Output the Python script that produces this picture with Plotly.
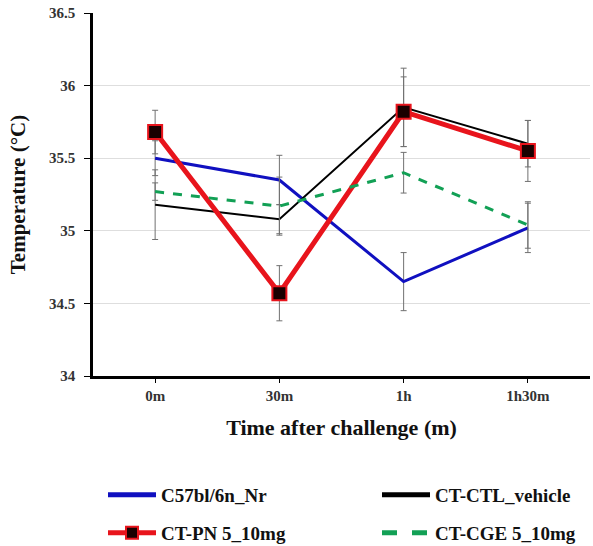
import plotly.graph_objects as go

categories = ["0m", "30m", "1h", "1h30m"]

c57_vals = [35.50, 35.35, 34.65, 35.02]
c57_err = [0.12, 0.17, 0.20, 0.17]

ctl_vals = [35.18, 35.08, 35.85, 35.60]
ctl_err = [0.24, 0.10, 0.27, 0.16]

pn_vals = [35.68, 34.57, 35.82, 35.55]
pn_err = [0.15, 0.19, 0.24, 0.21]

cge_vals = [35.27, 35.17, 35.40, 35.04]
cge_err = [0.06, 0.20, 0.14, 0.16]

y_ticks = [34, 34.5, 35, 35.5, 36, 36.5]

FONT = "Liberation Serif"

def eb(vals):
    return dict(type="data", array=vals, visible=True, color="#707070", thickness=1, width=3)

fig = go.Figure()
fig.add_trace(go.Scatter(x=categories, y=c57_vals, name="C57bl/6n_Nr", mode="lines",
                         line=dict(color="#1010c0", width=3), error_y=eb(c57_err),
                         legend="legend"))
fig.add_trace(go.Scatter(x=categories, y=ctl_vals, name="CT-CTL_vehicle", mode="lines",
                         line=dict(color="#000000", width=2), error_y=eb(ctl_err),
                         legend="legend2"))
fig.add_trace(go.Scatter(x=categories, y=pn_vals, name="CT-PN 5_10mg", mode="lines+markers",
                         line=dict(color="#e8141c", width=5),
                         marker=dict(symbol="square", size=14, color="#1a0000",
                                     line=dict(color="#e8141c", width=2)),
                         error_y=eb(pn_err), legend="legend3"))
fig.add_trace(go.Scatter(x=categories, y=cge_vals, name="CT-CGE 5_10mg", mode="lines",
                         line=dict(color="#12a055", width=3, dash="dash"), error_y=eb(cge_err),
                         legend="legend4"))

legend_common = dict(orientation="h", xanchor="left", yanchor="middle",
                     xref="container", yref="container", itemwidth=48,
                     itemsizing="constant",
                     font=dict(family=FONT, size=19, color="#111111", weight="bold"),
                     bgcolor="rgba(0,0,0,0)")

col1_x, col2_x = 103 / 593, 377 / 593
row1_y, row2_y = 1 - 495 / 546, 1 - 533 / 546

fig.update_layout(
    width=593, height=546,
    margin=dict(l=93, r=3, t=13, b=170),
    paper_bgcolor="white", plot_bgcolor="white",
    font=dict(family=FONT, color="#222222"),
    showlegend=True,
    legend=dict(x=col1_x, y=row1_y, **legend_common),
    legend2=dict(x=col2_x, y=row1_y, **legend_common),
    legend3=dict(x=col1_x, y=row2_y, **legend_common),
    legend4=dict(x=col2_x, y=row2_y, **legend_common),
    xaxis=dict(
        type="category", range=[-0.5, 3.5], showgrid=False, automargin=False,
        showline=True, linecolor="#000000", linewidth=2.5,
        ticks="outside", ticklen=4, tickcolor="#000000",
        ticklabelstandoff=0,
        tickfont=dict(family=FONT, size=15, color="#333333", weight="bold"),
        title=dict(text="Time after challenge (m)", standoff=17,
                   font=dict(family=FONT, size=22, color="#111111", weight="bold")),
    ),
    yaxis=dict(
        range=[34, 36.5], tickvals=y_ticks, ticktext=[f"{v:g}" for v in y_ticks],
        showgrid=True, gridcolor="#dedede", gridwidth=1, automargin=False,
        showline=True, linecolor="#000000", linewidth=2.5,
        ticks="outside", ticklen=6, tickcolor="#000000",
        ticklabelstandoff=6,
        zeroline=False,
        tickfont=dict(family=FONT, size=15, color="#333333", weight="bold"),
        title=dict(text="Temperature (°C)", standoff=18,
                   font=dict(family=FONT, size=21, color="#111111", weight="bold")),
    ),
)

fig.write_html("out.html", config={"displayModeBar": False},
               post_script="document.body.style.margin='0';document.body.style.padding='0';")
